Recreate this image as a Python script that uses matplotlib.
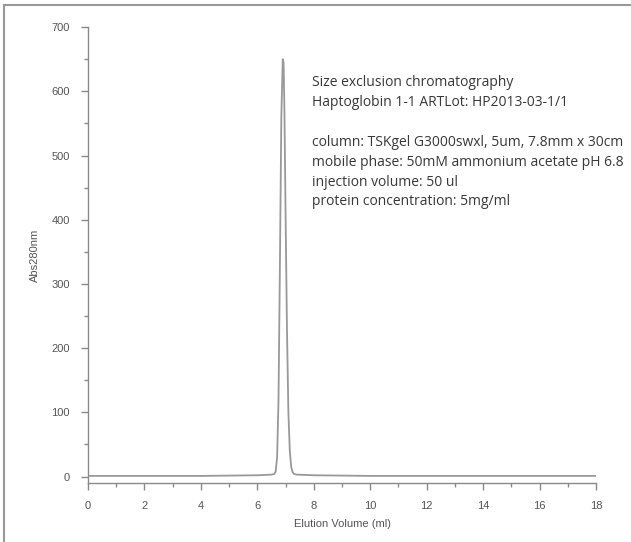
import matplotlib.pyplot as plt
from matplotlib.ticker import MultipleLocator
from matplotlib.lines import Line2D

# elution trace
volume = [0, 2, 4, 6.0, 6.5, 6.6, 6.65, 6.7, 6.75, 6.8, 6.85, 6.9, 6.93,
          6.96, 7.0, 7.05, 7.1, 7.15, 7.2, 7.25, 7.3, 7.4, 8, 10, 12, 14, 16, 18]
absorbance = [1, 1, 1, 2, 3, 4, 8, 30, 120, 330, 560, 650, 645,
              570, 410, 230, 100, 40, 15, 7, 4, 3, 2, 1, 1, 1, 1, 1]

x_ticks = [0, 2, 4, 6, 8, 10, 12, 14, 16, 18]
y_ticks = [0, 100, 200, 300, 400, 500, 600, 700]

notes = ("Size exclusion chromatography\n"
         "Haptoglobin 1-1 ARTLot: HP2013-03-1/1\n"
         "\n"
         "column: TSKgel G3000swxl, 5um, 7.8mm x 30cm\n"
         "mobile phase: 50mM ammonium acetate pH 6.8\n"
         "injection volume: 50 ul\n"
         "protein concentration: 5mg/ml")

grey = '#8a8a8a'
txt = '#555555'

fig = plt.figure(figsize=(6.31, 5.42), dpi=100)
ax = fig.add_axes([0.1395, 0.1089, 0.805, 0.8411])

ax.plot(volume, absorbance, color='#999999', lw=1.3)

ax.set_xlim(0, 18)
ax.set_ylim(-10, 700)
ax.set_xticks(x_ticks)
ax.set_yticks(y_ticks)
ax.xaxis.set_minor_locator(MultipleLocator(1))
ax.yaxis.set_minor_locator(MultipleLocator(50))

for side in ['top', 'right']:
    ax.spines[side].set_visible(False)
for side in ['left', 'bottom']:
    ax.spines[side].set_color(grey)
    ax.spines[side].set_linewidth(1.0)

ax.tick_params(which='major', direction='out', length=5, width=1, color=grey,
               labelcolor=txt, labelsize=8, pad=8)
ax.tick_params(which='minor', direction='out', length=3, width=1, color=grey)
for lab in ax.get_xticklabels() + ax.get_yticklabels():
    lab.set_family('Liberation Sans')

ax.set_xlabel('Elution Volume (ml)', fontsize=8, color=txt, family='Liberation Sans', labelpad=6)
ax.set_ylabel('Abs280nm', fontsize=8, color=txt, family='Liberation Sans', labelpad=8)

fig.text(0.494, 0.862, notes, fontsize=10, color='#383838', family='Open Sans',
         va='top', ha='left', linespacing=1.45)

# grey frame on top and left, as in the source image
fig.add_artist(Line2D([0.007, 0.007], [0, 0.991], transform=fig.transFigure, color='#999999', lw=1.5))
fig.add_artist(Line2D([0.007, 1.0], [0.991, 0.991], transform=fig.transFigure, color='#999999', lw=1.5))

fig.savefig('out.png', dpi=100)
